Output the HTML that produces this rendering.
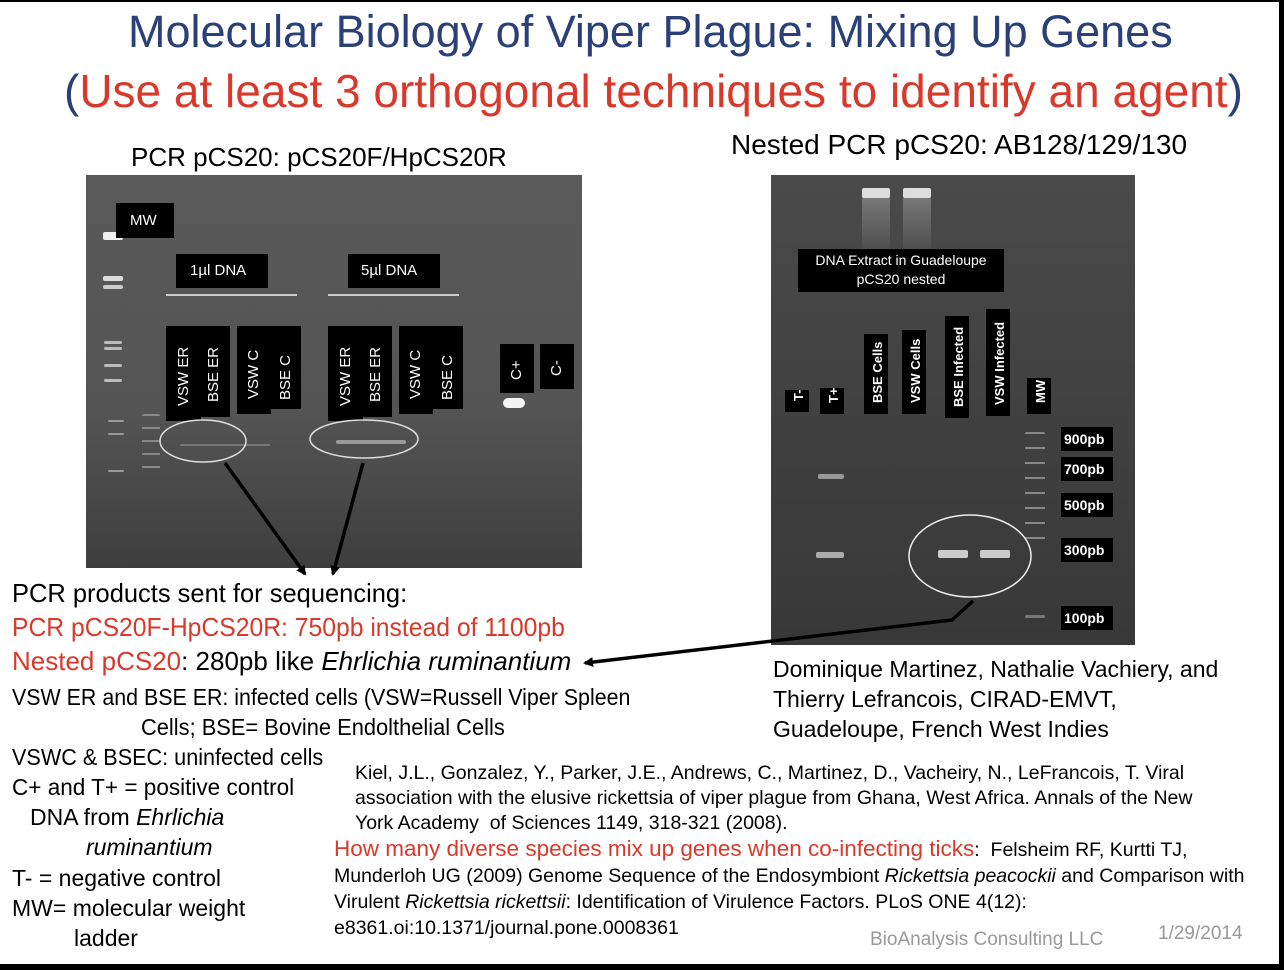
<!DOCTYPE html>
<html><head><meta charset="utf-8"><style>
body{margin:0;width:1284px;height:970px;background:#fff;position:relative;overflow:hidden;font-family:"Liberation Sans",sans-serif;}
.t{position:absolute;white-space:nowrap;line-height:1;transform-origin:0 0;}
.w{font-family:"Liberation Sans",sans-serif;}
.red{color:#d8392b;}
.lbl{position:absolute;background:#000;color:#fff;}
.v{position:absolute;background:#000;color:#fff;font-size:15px;}
.v span{position:absolute;left:50%;bottom:8px;transform-origin:0 0;transform:rotate(-90deg);white-space:nowrap;}
.r span{font-weight:bold;font-size:13px;}
.band{position:absolute;background:#bbb;border-radius:2px;}
</style></head><body>
<div style="position:absolute;left:0;top:0;width:1284px;height:2px;background:#000"></div>
<div style="position:absolute;left:0;top:964px;width:1284px;height:6px;background:#000"></div>
<div style="position:absolute;left:1279px;top:0;width:5px;height:970px;background:#000"></div>

<div class="t" style="left:128px;top:9px;font-size:45px;color:#2b4078;">Molecular Biology of Viper Plague: Mixing Up Genes</div>
<div class="t" style="left:64px;top:68px;font-size:46px;color:#2b4078;">(<span class="red">Use at least 3 orthogonal techniques to identify an agent</span>)</div>
<div class="t" style="left:131px;top:144px;font-size:26px;">PCR pCS20: pCS20F/HpCS20R</div>
<div class="t" style="left:731px;top:131px;font-size:28px;">Nested PCR pCS20: AB128/129/130</div>

<!-- left gel -->
<div style="position:absolute;left:86px;top:175px;width:496px;height:393px;background:linear-gradient(#5a5a5a,#545454 60%,#3e3e3e);"></div>
<div class="band" style="left:103px;top:232px;width:20px;height:8px;background:#eee"></div>
<div class="band" style="left:103px;top:276px;width:20px;height:5px;background:#ddd"></div>
<div class="band" style="left:103px;top:285px;width:20px;height:4px;background:#ccc"></div>
<div class="band" style="left:104px;top:341px;width:18px;height:3px"></div>
<div class="band" style="left:104px;top:347px;width:18px;height:3px"></div>
<div class="band" style="left:104px;top:364px;width:18px;height:3px"></div>
<div class="band" style="left:104px;top:379px;width:18px;height:3px"></div>
<div class="band" style="left:108px;top:420px;width:16px;height:2px;background:#999"></div>
<div class="band" style="left:108px;top:433px;width:16px;height:2px;background:#999"></div>
<div class="band" style="left:108px;top:470px;width:16px;height:2px;background:#999"></div>
<div class="band" style="left:142px;top:414px;width:18px;height:60px;background:repeating-linear-gradient(#888 0 2px,transparent 2px 13px)"></div>
<div class="band" style="left:503px;top:398px;width:22px;height:10px;background:#f4f4f4;border-radius:5px"></div>
<div class="band" style="left:180px;top:444px;width:90px;height:2px;background:#777"></div>
<div class="band" style="left:336px;top:440px;width:70px;height:4px;background:#999"></div>

<div class="lbl" style="left:116px;top:203px;width:58px;height:35px;font-size:15px;line-height:35px;text-indent:14px">MW</div>
<div class="lbl" style="left:176px;top:254px;width:92px;height:34px;font-size:15px;line-height:34px;text-indent:14px">1µl DNA</div>
<div class="lbl" style="left:348px;top:254px;width:92px;height:34px;font-size:15px;line-height:34px;text-indent:13px">5µl DNA</div>
<div style="position:absolute;left:166px;top:294px;width:131px;height:2px;background:#ccc"></div>
<div style="position:absolute;left:328px;top:294px;width:131px;height:2px;background:#ccc"></div>

<div class="v" style="left:166px;top:326px;width:35px;height:95px"><span style="left:9px;bottom:-2px">VSW ER</span></div>
<div class="v" style="left:198px;top:326px;width:32px;height:91px"><span style="left:7px;bottom:-2px">BSE ER</span></div>
<div class="v" style="left:237px;top:326px;width:34px;height:88px"><span style="left:8px;bottom:-2px">VSW C</span></div>
<div class="v" style="left:271px;top:326px;width:30px;height:83px"><span style="left:6px;bottom:-8px">BSE C</span></div>
<div class="v" style="left:328px;top:326px;width:35px;height:95px"><span style="left:9px;bottom:-2px">VSW ER</span></div>
<div class="v" style="left:360px;top:326px;width:32px;height:91px"><span style="left:7px;bottom:-2px">BSE ER</span></div>
<div class="v" style="left:399px;top:326px;width:34px;height:88px"><span style="left:8px;bottom:-2px">VSW C</span></div>
<div class="v" style="left:433px;top:326px;width:30px;height:83px"><span style="left:6px;bottom:-8px">BSE C</span></div>
<div class="v" style="left:500px;top:344px;width:34px;height:49px"><span style="left:8px;bottom:-4px">C+</span></div>
<div class="v" style="left:540px;top:344px;width:34px;height:45px"><span style="left:8px;bottom:-4px">C-</span></div>

<!-- right gel -->
<div style="position:absolute;left:771px;top:175px;width:364px;height:470px;background:linear-gradient(#4a4a4a,#3f3f3f 60%,#383838);"></div>
<div class="band" style="left:862px;top:188px;width:28px;height:10px;background:#ddd"></div>
<div class="band" style="left:903px;top:188px;width:28px;height:10px;background:#ddd"></div>
<div style="position:absolute;left:862px;top:198px;width:28px;height:60px;background:linear-gradient(#777,transparent)"></div>
<div style="position:absolute;left:903px;top:198px;width:28px;height:60px;background:linear-gradient(#777,transparent)"></div>
<div class="band" style="left:818px;top:474px;width:26px;height:5px;background:#999"></div>
<div class="band" style="left:816px;top:552px;width:28px;height:6px;background:#aaa"></div>
<div class="band" style="left:938px;top:550px;width:30px;height:8px;background:#ccc"></div>
<div class="band" style="left:980px;top:550px;width:30px;height:8px;background:#ccc"></div>
<div class="band" style="left:1025px;top:432px;width:20px;height:110px;background:repeating-linear-gradient(#888 0 2px,transparent 2px 15px)"></div>
<div class="band" style="left:1025px;top:615px;width:20px;height:3px;background:#777"></div>

<div class="lbl" style="left:798px;top:249px;width:206px;height:43px;font-size:14px;text-align:center;line-height:19px;padding-top:2px;box-sizing:border-box">DNA Extract in Guadeloupe<br>pCS20 nested</div>
<div class="v r" style="left:785px;top:390px;width:24px;height:22px"><span style="left:6px;bottom:-4px">T-</span></div>
<div class="v r" style="left:820px;top:388px;width:24px;height:26px"><span style="left:6px;bottom:-4px">T+</span></div>
<div class="v r" style="left:864px;top:334px;width:24px;height:80px"><span style="left:6px;bottom:-4px">BSE Cells</span></div>
<div class="v r" style="left:902px;top:330px;width:24px;height:84px"><span style="left:6px;bottom:-4px">VSW Cells</span></div>
<div class="v r" style="left:945px;top:316px;width:24px;height:102px"><span style="left:6px;bottom:-4px">BSE Infected</span></div>
<div class="v r" style="left:986px;top:309px;width:24px;height:107px"><span style="left:6px;bottom:-4px">VSW Infected</span></div>
<div class="v r" style="left:1027px;top:378px;width:24px;height:36px"><span style="left:6px;bottom:-4px">MW</span></div>
<div class="lbl" style="left:1061px;top:427px;width:52px;height:24px;font:bold 14px 'Liberation Sans',sans-serif;line-height:24px;text-indent:3px">900pb</div>
<div class="lbl" style="left:1061px;top:457px;width:52px;height:24px;font:bold 14px 'Liberation Sans',sans-serif;line-height:24px;text-indent:3px">700pb</div>
<div class="lbl" style="left:1061px;top:493px;width:52px;height:24px;font:bold 14px 'Liberation Sans',sans-serif;line-height:24px;text-indent:3px">500pb</div>
<div class="lbl" style="left:1061px;top:538px;width:52px;height:24px;font:bold 14px 'Liberation Sans',sans-serif;line-height:24px;text-indent:3px">300pb</div>
<div class="lbl" style="left:1061px;top:606px;width:52px;height:24px;font:bold 14px 'Liberation Sans',sans-serif;line-height:24px;text-indent:3px">100pb</div>

<svg style="position:absolute;left:0;top:0" width="1284" height="970">
<defs><marker id="a" markerWidth="10" markerHeight="10" refX="8" refY="5" orient="auto" markerUnits="userSpaceOnUse"><path d="M0,0 L10,5 L0,10 z" fill="#000"/></marker></defs>
<ellipse cx="203" cy="441" rx="43" ry="21" fill="none" stroke="#ddd" stroke-width="1.5"/>
<ellipse cx="364" cy="439" rx="54" ry="19" fill="none" stroke="#ddd" stroke-width="1.5"/>
<ellipse cx="970" cy="556" rx="61" ry="41" fill="none" stroke="#eee" stroke-width="1.5"/>
<line x1="225" y1="463" x2="305" y2="574" stroke="#000" stroke-width="3.5" marker-end="url(#a)"/>
<line x1="363" y1="463" x2="333" y2="574" stroke="#000" stroke-width="3.5" marker-end="url(#a)"/>
<polyline points="973,601 952,620 585,663" fill="none" stroke="#000" stroke-width="3.5" marker-end="url(#a)"/>
</svg>

<div class="t" style="left:12px;top:580px;font-size:26px;transform:scaleX(0.98)">PCR products sent for sequencing:</div>
<div class="t red" style="left:12px;top:614px;font-size:26px;transform:scaleX(0.95)">PCR pCS20F-HpCS20R: 750pb instead of 1100pb</div>
<div class="t" style="left:12px;top:648px;font-size:26px;"><span class="red">Nested pCS20</span>: 280pb like <i>Ehrlichia ruminantium</i></div>
<div class="t" style="left:12px;top:686px;font-size:23px;transform:scaleX(0.93)">VSW ER and BSE ER: infected cells (VSW=Russell Viper Spleen</div>
<div class="t" style="left:141px;top:716px;font-size:23px;transform:scaleX(0.95)">Cells; BSE= Bovine Endolthelial Cells</div>
<div class="t" style="left:12px;top:746px;font-size:23px;transform:scaleX(0.94)">VSWC &amp; BSEC: uninfected cells</div>
<div class="t" style="left:12px;top:776px;font-size:23px;transform:scaleX(0.98)">C+ and T+ = positive control</div>
<div class="t" style="left:30px;top:806px;font-size:23px;">DNA from <i>Ehrlichia</i></div>
<div class="t" style="left:86px;top:836px;font-size:23px;"><i>ruminantium</i></div>
<div class="t" style="left:12px;top:867px;font-size:23px;">T- = negative control</div>
<div class="t" style="left:12px;top:897px;font-size:23px;">MW= molecular weight</div>
<div class="t" style="left:74px;top:927px;font-size:23px;">ladder</div>

<div class="t" style="left:773px;top:654px;font-size:23px;line-height:30px;">Dominique Martinez, Nathalie Vachiery, and<br>Thierry Lefrancois, CIRAD-EMVT,<br>Guadeloupe, French West Indies</div>

<div class="t" style="left:355px;top:761px;font-size:19.5px;line-height:25px;">Kiel, J.L., Gonzalez, Y., Parker, J.E., Andrews, C., Martinez, D., Vacheiry, N., LeFrancois, T. Viral<br>association with the elusive rickettsia of viper plague from Ghana, West Africa. Annals of the New<br>York Academy &nbsp;of Sciences 1149, 318-321 (2008).</div>
<div class="t" style="left:334px;top:836px;font-size:19.5px;line-height:26px;"><span class="red" style="font-size:22.5px">How many diverse species mix up genes when co-infecting ticks</span>: &nbsp;Felsheim RF, Kurtti TJ,<br>Munderloh UG (2009) Genome Sequence of the Endosymbiont <i>Rickettsia peacockii</i> and Comparison with<br>Virulent <i>Rickettsia rickettsii</i>: Identification of Virulence Factors. PLoS ONE 4(12):<br>e8361.oi:10.1371/journal.pone.0008361</div>
<div class="t" style="left:870px;top:930px;font-size:19px;color:#999;">BioAnalysis Consulting LLC</div>
<div class="t" style="left:1158px;top:924px;font-size:19px;color:#999;">1/29/2014</div>
</body></html>
